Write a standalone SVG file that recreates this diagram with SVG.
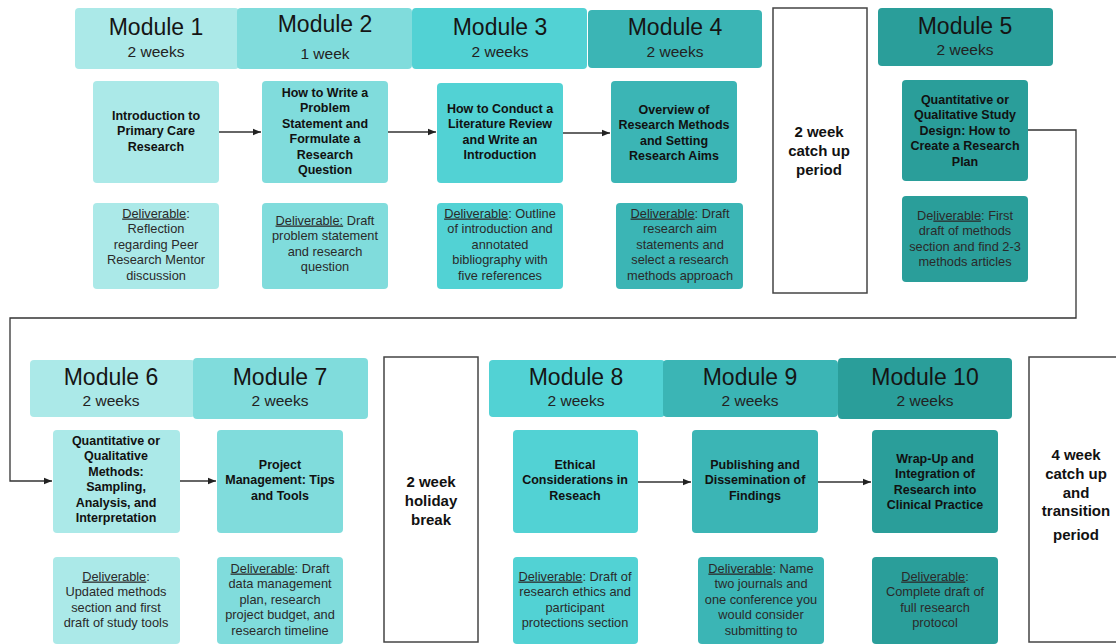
<svg xmlns="http://www.w3.org/2000/svg" width="1116" height="644" viewBox="0 0 1116 644">
<defs>
<style>
.c1{fill:#abe9e8}.c2{fill:#80dcdc}.c3{fill:#52d2d4}.c4{fill:#3bb5b5}.c5{fill:#2a9e9a}
.hd{font-family:"Liberation Sans",Arial,sans-serif;font-size:23px;fill:#151515;text-anchor:middle}
.wk{font-family:"Liberation Sans",Arial,sans-serif;font-size:15.5px;fill:#222;text-anchor:middle}
.tt{font-family:"Liberation Sans",Arial,sans-serif;font-size:12.5px;font-weight:bold;fill:#111;text-anchor:middle}
.dl{font-family:"Liberation Sans",Arial,sans-serif;font-size:12.8px;fill:#2a2a2a;text-anchor:middle}
.u{text-decoration:underline}
.br{fill:#fff;stroke:#444;stroke-width:1.5}
.bt{font-family:"Liberation Sans",Arial,sans-serif;font-size:15px;font-weight:bold;fill:#111;text-anchor:middle}
.ln{fill:none;stroke:#333;stroke-width:1.3}
</style>
<marker id="ah" viewBox="0 0 10 10" refX="10" refY="5" markerWidth="8" markerHeight="8" markerUnits="userSpaceOnUse" orient="auto"><path d="M0,1 L10,5 L0,9 z" fill="#222"/></marker>
</defs>
<rect width="1116" height="644" fill="#fff"/>

<g id="module1">
<rect class="c1" x="75" y="8" width="164" height="61" rx="4"/>
<text class="hd" x="156" y="35">Module 1</text>
<text class="wk" x="156" y="57">2 weeks</text>
<rect class="c1" x="93" y="81" width="126" height="102" rx="4"/>
<text class="tt"><tspan x="156" y="119.5">Introduction to</tspan><tspan x="156" y="135">Primary Care</tspan><tspan x="156" y="150.5">Research</tspan></text>
<rect class="c1" x="93" y="203" width="126" height="86" rx="4"/>
<text class="dl"><tspan x="156" y="217.5"><tspan class="u">Deliverable</tspan>:</tspan><tspan x="156" y="233">Reflection</tspan><tspan x="156" y="248.5">regarding Peer</tspan><tspan x="156" y="264">Research Mentor</tspan><tspan x="156" y="279.5">discussion</tspan></text>
</g>

<g id="module2">
<rect class="c2" x="237" y="8" width="175" height="61" rx="4"/>
<text class="hd" x="325" y="32">Module 2</text>
<text class="wk" x="325" y="59">1 week</text>
<rect class="c2" x="262" y="81" width="126" height="102" rx="4"/>
<text class="tt"><tspan x="325" y="96.5">How to Write a</tspan><tspan x="325" y="112">Problem</tspan><tspan x="325" y="127.5">Statement and</tspan><tspan x="325" y="143">Formulate a</tspan><tspan x="325" y="158.5">Research</tspan><tspan x="325" y="174">Question</tspan></text>
<rect class="c2" x="262" y="203" width="126" height="86" rx="4"/>
<text class="dl"><tspan x="325" y="224.5"><tspan class="u">Deliverable:</tspan> Draft</tspan><tspan x="325" y="240">problem statement</tspan><tspan x="325" y="255.5">and research</tspan><tspan x="325" y="271">question</tspan></text>
</g>

<g id="module3">
<rect class="c3" x="412" y="8" width="175" height="61" rx="4"/>
<text class="hd" x="500" y="35">Module 3</text>
<text class="wk" x="500" y="57">2 weeks</text>
<rect class="c3" x="437" y="83" width="126" height="100" rx="4"/>
<text class="tt"><tspan x="500" y="112.5">How to Conduct a</tspan><tspan x="500" y="128">Literature Review</tspan><tspan x="500" y="143.5">and Write an</tspan><tspan x="500" y="159">Introduction</tspan></text>
<rect class="c3" x="437" y="203" width="126" height="86" rx="4"/>
<text class="dl"><tspan x="500" y="217.5"><tspan class="u">Deliverable</tspan>: Outline</tspan><tspan x="500" y="233">of introduction and</tspan><tspan x="500" y="248.5">annotated</tspan><tspan x="500" y="264">bibliography with</tspan><tspan x="500" y="279.5">five references</tspan></text>
</g>

<g id="module4">
<rect class="c4" x="588" y="10" width="174" height="58" rx="4"/>
<text class="hd" x="675" y="35">Module 4</text>
<text class="wk" x="675" y="57">2 weeks</text>
<rect class="c4" x="611" y="81" width="126" height="102" rx="4"/>
<text class="tt"><tspan x="674" y="113.5">Overview of</tspan><tspan x="674" y="129">Research Methods</tspan><tspan x="674" y="144.5">and Setting</tspan><tspan x="674" y="160">Research Aims</tspan></text>
<rect class="c4" x="616" y="203" width="127" height="86" rx="4"/>
<text class="dl"><tspan x="680" y="217.5"><tspan class="u">Deliverable</tspan>: Draft</tspan><tspan x="680" y="233">research aim</tspan><tspan x="680" y="248.5">statements and</tspan><tspan x="680" y="264">select a research</tspan><tspan x="680" y="279.5">methods approach</tspan></text>
</g>

<g id="catchup1">
<rect class="br" x="773" y="8" width="94" height="285"/>
<text class="bt"><tspan x="819" y="137">2 week</tspan><tspan x="819" y="156">catch up</tspan><tspan x="819" y="175">period</tspan></text>
</g>

<g id="module5">
<rect class="c5" x="878" y="8" width="175" height="58" rx="4"/>
<text class="hd" x="965" y="34">Module 5</text>
<text class="wk" x="965" y="55">2 weeks</text>
<rect class="c5" x="902" y="80" width="126" height="101" rx="4"/>
<text class="tt"><tspan x="965" y="103.5">Quantitative or</tspan><tspan x="965" y="119">Qualitative Study</tspan><tspan x="965" y="134.5">Design: How to</tspan><tspan x="965" y="150">Create a Research</tspan><tspan x="965" y="165.5">Plan</tspan></text>
<rect class="c5" x="902" y="196" width="126" height="86" rx="4"/>
<text class="dl"><tspan x="965" y="219.5">De<tspan class="u">liverable</tspan>: First</tspan><tspan x="965" y="235">draft of methods</tspan><tspan x="965" y="250.5">section and find 2-3</tspan><tspan x="965" y="266">methods articles</tspan></text>
</g>

<g id="module6">
<rect class="c1" x="30" y="360" width="165" height="57" rx="4"/>
<text class="hd" x="111" y="385">Module 6</text>
<text class="wk" x="111" y="406">2 weeks</text>
<rect class="c1" x="53" y="430" width="127" height="103" rx="4"/>
<text class="tt"><tspan x="116" y="444.5">Quantitative or</tspan><tspan x="116" y="460">Qualitative</tspan><tspan x="116" y="475.5">Methods:</tspan><tspan x="116" y="491">Sampling,</tspan><tspan x="116" y="506.5">Analysis, and</tspan><tspan x="116" y="522">Interpretation</tspan></text>
<rect class="c1" x="53" y="557" width="127" height="87" rx="4"/>
<text class="dl"><tspan x="116" y="580.5"><tspan class="u">Deliverable</tspan>:</tspan><tspan x="116" y="596">Updated methods</tspan><tspan x="116" y="611.5">section and first</tspan><tspan x="116" y="627">draft of study tools</tspan></text>
</g>

<g id="module7">
<rect class="c2" x="193" y="358" width="175" height="61" rx="4"/>
<text class="hd" x="280" y="385">Module 7</text>
<text class="wk" x="280" y="406">2 weeks</text>
<rect class="c2" x="217" y="430" width="126" height="103" rx="4"/>
<text class="tt"><tspan x="280" y="468.5">Project</tspan><tspan x="280" y="484">Management: Tips</tspan><tspan x="280" y="499.5">and Tools</tspan></text>
<rect class="c2" x="217" y="557" width="126" height="87" rx="4"/>
<text class="dl"><tspan x="280" y="572.5"><tspan class="u">Deliverable</tspan>: Draft</tspan><tspan x="280" y="588">data management</tspan><tspan x="280" y="603.5">plan, research</tspan><tspan x="280" y="619">project budget, and</tspan><tspan x="280" y="634.5">research timeline</tspan></text>
</g>

<g id="holiday">
<rect class="br" x="384" y="357" width="94" height="285"/>
<text class="bt"><tspan x="431" y="487">2 week</tspan><tspan x="431" y="506">holiday</tspan><tspan x="431" y="525">break</tspan></text>
</g>

<g id="module8">
<rect class="c3" x="489" y="360" width="176" height="57" rx="4"/>
<text class="hd" x="576" y="385">Module 8</text>
<text class="wk" x="576" y="406">2 weeks</text>
<rect class="c3" x="513" y="430" width="125" height="103" rx="4"/>
<text class="tt"><tspan x="575" y="468.5">Ethical</tspan><tspan x="575" y="484">Considerations in</tspan><tspan x="575" y="499.5">Reseach</tspan></text>
<rect class="c3" x="513" y="557" width="125" height="87" rx="4"/>
<text class="dl"><tspan x="575" y="580.5"><tspan class="u">Deliverable</tspan>: Draft of</tspan><tspan x="575" y="596">research ethics and</tspan><tspan x="575" y="611.5">participant</tspan><tspan x="575" y="627">protections section</tspan></text>
</g>

<g id="module9">
<rect class="c4" x="663" y="360" width="175" height="57" rx="4"/>
<text class="hd" x="750" y="385">Module 9</text>
<text class="wk" x="750" y="406">2 weeks</text>
<rect class="c4" x="692" y="430" width="126" height="103" rx="4"/>
<text class="tt"><tspan x="755" y="468.5">Publishing and</tspan><tspan x="755" y="484">Dissemination of</tspan><tspan x="755" y="499.5">Findings</tspan></text>
<rect class="c4" x="698" y="557" width="126" height="87" rx="4"/>
<text class="dl"><tspan x="761" y="572.5"><tspan class="u">Deliverable</tspan>: Name</tspan><tspan x="761" y="588">two journals and</tspan><tspan x="761" y="603.5">one conference you</tspan><tspan x="761" y="619">would consider</tspan><tspan x="761" y="634.5">submitting to</tspan></text>
</g>

<g id="module10">
<rect class="c5" x="838" y="358" width="174" height="61" rx="4"/>
<text class="hd" x="925" y="385">Module 10</text>
<text class="wk" x="925" y="406">2 weeks</text>
<rect class="c5" x="872" y="430" width="126" height="103" rx="4"/>
<text class="tt"><tspan x="935" y="462.5">Wrap-Up and</tspan><tspan x="935" y="478">Integration of</tspan><tspan x="935" y="493.5">Research into</tspan><tspan x="935" y="509">Clinical Practice</tspan></text>
<rect class="c5" x="872" y="557" width="126" height="87" rx="4"/>
<text class="dl"><tspan x="935" y="580.5"><tspan class="u">Deliverable</tspan>:</tspan><tspan x="935" y="596">Complete draft of</tspan><tspan x="935" y="611.5">full research</tspan><tspan x="935" y="627">protocol</tspan></text>
</g>

<g id="transition">
<rect class="br" x="1029" y="357" width="100" height="285"/>
<text class="bt"><tspan x="1076" y="460">4 week</tspan><tspan x="1076" y="479">catch up</tspan><tspan x="1076" y="498">and</tspan><tspan x="1076" y="516">transition</tspan><tspan x="1076" y="540">period</tspan></text>
</g>

<g id="connectors">
<line class="ln" x1="219" y1="132" x2="261" y2="132" marker-end="url(#ah)"/>
<line class="ln" x1="388" y1="132" x2="436" y2="132" marker-end="url(#ah)"/>
<line class="ln" x1="563" y1="133" x2="610" y2="133" marker-end="url(#ah)"/>
<polyline class="ln" points="1028,130 1076,130 1076,318 10,318 10,481 52,481" marker-end="url(#ah)"/>
<line class="ln" x1="180" y1="481" x2="216" y2="481" marker-end="url(#ah)"/>
<line class="ln" x1="638" y1="482" x2="691" y2="482" marker-end="url(#ah)"/>
<line class="ln" x1="818" y1="482" x2="871" y2="482" marker-end="url(#ah)"/>
</g>
</svg>
